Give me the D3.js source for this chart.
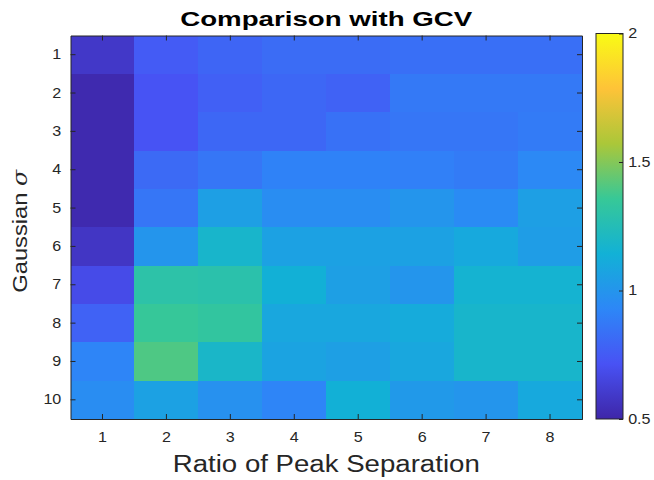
<!DOCTYPE html>
<html>
<head>
<meta charset="utf-8">
<script src="https://cdn.jsdelivr.net/npm/d3@7"></script>
<style>
  body { margin: 0; background: #fff; }
  svg { display: block; font-family: "Liberation Sans", Arial, Helvetica, sans-serif; }
  .axis text { fill: #262626; font-size: 14px; }
  .axis line, .axis path { stroke: #262626; }
</style>
</head>
<body>
<script>
// ratio of peak separation (columns) and gaussian sigma (rows)
const ratios = [1, 2, 3, 4, 5, 6, 7, 8];
const sigmas = [1, 2, 3, 4, 5, 6, 7, 8, 9, 10];

// one array per sigma row
const row1  = [0.59, 0.75, 0.79, 0.82, 0.82, 0.83, 0.83, 0.83];
const row2  = [0.52, 0.72, 0.77, 0.80, 0.78, 0.87, 0.87, 0.87];
const row3  = [0.52, 0.72, 0.80, 0.80, 0.84, 0.86, 0.86, 0.88];
const row4  = [0.52, 0.81, 0.86, 0.91, 0.91, 0.90, 0.88, 0.94];
const row5  = [0.52, 0.86, 1.05, 0.96, 0.96, 1.00, 0.95, 1.05];
const row6  = [0.58, 1.00, 1.18, 1.06, 1.06, 1.06, 1.10, 1.04];
const row7  = [0.68, 1.30, 1.29, 1.14, 1.05, 1.00, 1.16, 1.16];
const row8  = [0.78, 1.35, 1.33, 1.09, 1.09, 1.11, 1.18, 1.18];
const row9  = [0.92, 1.40, 1.19, 1.07, 1.05, 1.09, 1.18, 1.18];
const row10 = [0.96, 1.06, 0.98, 0.92, 1.14, 1.02, 1.00, 1.10];
const rows = [row1, row2, row3, row4, row5, row6, row7, row8, row9, row10];

const cbTicks = [0.5, 1, 1.5, 2];
const cLimits = [0.5, 2];

// parula anchors (MATLAB parula(8))
const parula = ["#3e26a8", "#4852f4", "#2d87f7", "#12b1d6", "#37c897", "#abc739", "#fec338", "#f9fb15"];

const width = 654, height = 480;
const plotL = 70.5, plotR = 582, plotT = 35.5, plotB = 419;
const cbLeft = 596, cbRight = 623, cbTop = 33.5;

const svg = d3.select("body").append("svg")
  .attr("width", width)
  .attr("height", height);

const x = d3.scaleBand().domain(ratios).range([plotL, plotR]);
const y = d3.scaleBand().domain(sigmas).range([plotT, plotB]);

const color = d3.scaleLinear()
  .domain(parula.map((c, i) => cLimits[0] + i * (cLimits[1] - cLimits[0]) / (parula.length - 1)))
  .range(parula)
  .interpolate(d3.interpolateRgb)
  .clamp(true);

const cells = [];
rows.forEach((r, i) => r.forEach((v, j) => cells.push({ s: sigmas[i], r: ratios[j], v: v })));

svg.append("g").attr("shape-rendering", "crispEdges")
  .selectAll("rect")
  .data(cells).enter()
  .append("rect")
  .attr("x", d => x(d.r))
  .attr("y", d => y(d.s))
  .attr("width", x.bandwidth() + 0.5)
  .attr("height", y.bandwidth() + 0.5)
  .attr("fill", d => color(d.v));

// axes, ticks inside like matlab
const sx = "scale(1.15,1)";
const gx = svg.append("g").attr("class", "axis")
  .attr("transform", `translate(0,${plotB})`)
  .call(d3.axisBottom(x).tickSize(-5).tickSizeOuter(0).tickPadding(13));
gx.selectAll("text").attr("transform", sx);

svg.append("g").attr("class", "axis")
  .attr("transform", `translate(0,${plotT})`)
  .call(d3.axisTop(x).tickSize(-5).tickSizeOuter(0).tickFormat(""));

const gy = svg.append("g").attr("class", "axis")
  .attr("transform", `translate(${plotL},0)`)
  .call(d3.axisLeft(y).tickSize(-5).tickSizeOuter(0).tickPadding(8));
gy.selectAll("text").attr("transform", sx);

svg.append("g").attr("class", "axis")
  .attr("transform", `translate(${plotR},0)`)
  .call(d3.axisRight(y).tickSize(-5).tickSizeOuter(0).tickFormat(""));

// colorbar
const cy = d3.scaleLinear().domain(cLimits).range([plotB, cbTop]);
const grad = svg.append("defs").append("linearGradient")
  .attr("id", "parula")
  .attr("x1", 0).attr("y1", 1).attr("x2", 0).attr("y2", 0);
grad.selectAll("stop")
  .data(parula).enter()
  .append("stop")
  .attr("offset", (d, i) => i / (parula.length - 1))
  .attr("stop-color", d => d);

svg.append("rect")
  .attr("x", cbLeft).attr("y", cbTop)
  .attr("width", cbRight - cbLeft).attr("height", plotB - cbTop)
  .attr("fill", "url(#parula)")
  .attr("stroke", "#262626").attr("stroke-width", 1);

const gc = svg.append("g").attr("class", "axis")
  .attr("transform", `translate(${cbRight},0)`)
  .call(d3.axisRight(cy).tickValues(cbTicks).tickFormat(d3.format("~g"))
    .tickSize(-4).tickSizeOuter(0).tickPadding(4.5));
gc.select(".domain").remove();
gc.selectAll("text").attr("transform", sx);

// titles
svg.append("text")
  .attr("x", (plotL + plotR) / 2).attr("y", 26)
  .attr("text-anchor", "middle")
  .attr("font-weight", "bold").attr("font-size", 21)
  .attr("textLength", 292).attr("lengthAdjust", "spacingAndGlyphs")
  .attr("fill", "#000")
  .text("Comparison with GCV");

svg.append("text")
  .attr("x", (plotL + plotR) / 2).attr("y", 472)
  .attr("text-anchor", "middle")
  .attr("font-size", 23)
  .attr("textLength", 307).attr("lengthAdjust", "spacingAndGlyphs")
  .attr("fill", "#262626")
  .text("Ratio of Peak Separation");

const yl = svg.append("text")
  .attr("transform", `translate(27,${(plotT + plotB) / 2 + 4}) rotate(-90)`)
  .attr("text-anchor", "middle")
  .attr("font-size", 20)
  .attr("textLength", 123).attr("lengthAdjust", "spacingAndGlyphs")
  .attr("fill", "#262626");
yl.append("tspan").text("Gaussian ");
yl.append("tspan").attr("font-style", "italic").attr("font-family", "DejaVu Serif, serif").text("σ");
</script>
</body>
</html>
